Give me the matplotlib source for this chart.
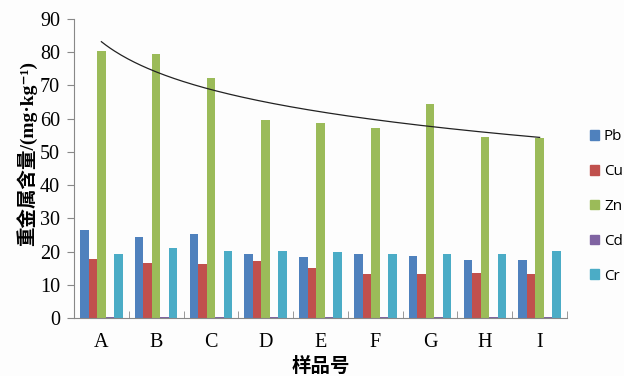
import numpy as np
import matplotlib.pyplot as plt
from matplotlib.patches import Patch

samples = ["A", "B", "C", "D", "E", "F", "G", "H", "I"]
metals = ["Pb", "Cu", "Zn", "Cd", "Cr"]
pb = [26.5, 24.3, 25.2, 19.3, 18.4, 19.4, 18.6, 17.4, 17.6]
cu = [17.7, 16.6, 16.3, 17.2, 15.1, 13.2, 13.2, 13.5, 13.2]
zn = [80.3, 79.6, 72.3, 59.6, 58.6, 57.3, 64.3, 54.5, 54.2]
cd = [0.4, 0.4, 0.4, 0.4, 0.4, 0.4, 0.4, 0.4, 0.4]
cr = [19.3, 21.2, 20.2, 20.2, 19.8, 19.2, 19.2, 19.2, 20.2]
colors = ["#4F81BD", "#C0504D", "#9BBB59", "#8064A2", "#4BACC6"]

serif = ["Liberation Serif", "Noto Sans CJK SC", "DejaVu Sans"]

fig = plt.figure(figsize=(6.24, 3.76), dpi=100)
fig.patch.set_facecolor("#fdfdfd")
ax = fig.add_axes([74 / 624, 58 / 376, 493 / 624, 299 / 376])
ax.set_facecolor("#fdfdfd")

x = np.arange(len(samples))
w = 0.155
for i, (vals, c) in enumerate(zip([pb, cu, zn, cd, cr], colors)):
    ax.bar(x + (i - 2) * w, vals, width=w, color=c, zorder=2)

# logarithmic trend line through the Zn values
lx = np.log(x + 1)
k, b = np.polyfit(lx, zn, 1)
xs = np.linspace(0, 8, 200)
ax.plot(xs, k * np.log(xs + 1) + b, color="#222222", lw=0.9, zorder=3)

ax.set_xlim(-0.5, 8.5)
ax.set_ylim(0, 90)
ax.set_yticks(range(0, 91, 10))
ax.set_xticks(x)
ax.set_xticklabels(samples)
ax.set_xticks(np.arange(-0.5, 9, 1), minor=True)
ax.tick_params(axis="x", which="major", length=0, pad=11)
ax.tick_params(axis="x", which="minor", direction="in", length=5, color="#888888")
ax.tick_params(axis="y", length=5, color="#888888", pad=5)
for lab in ax.get_xticklabels() + ax.get_yticklabels():
    lab.set_family(serif)
    lab.set_fontsize(14.5)
for s in ["top", "right"]:
    ax.spines[s].set_visible(False)
for s in ["left", "bottom"]:
    ax.spines[s].set_color("#888888")

ax.set_ylabel("重金属含量/(mg·kg⁻¹)", family=serif, fontsize=14,
              fontweight="bold", labelpad=4)
ax.yaxis.set_label_coords(-0.075, 0.55)
ax.set_xlabel("样品号", family=serif, fontsize=14, fontweight="bold", labelpad=3)

handles = [Patch(color=c) for c in colors]
fig.legend(handles, metals, loc="upper left", bbox_to_anchor=(578 / 624, 1 - 117 / 376),
           frameon=False, handlelength=0.6, handleheight=0.6, handletextpad=0.3,
           labelspacing=1.3, borderpad=0.3, prop={"family": "Open Sans", "size": 11})

fig.savefig("out.png", dpi=100, facecolor=fig.get_facecolor())
